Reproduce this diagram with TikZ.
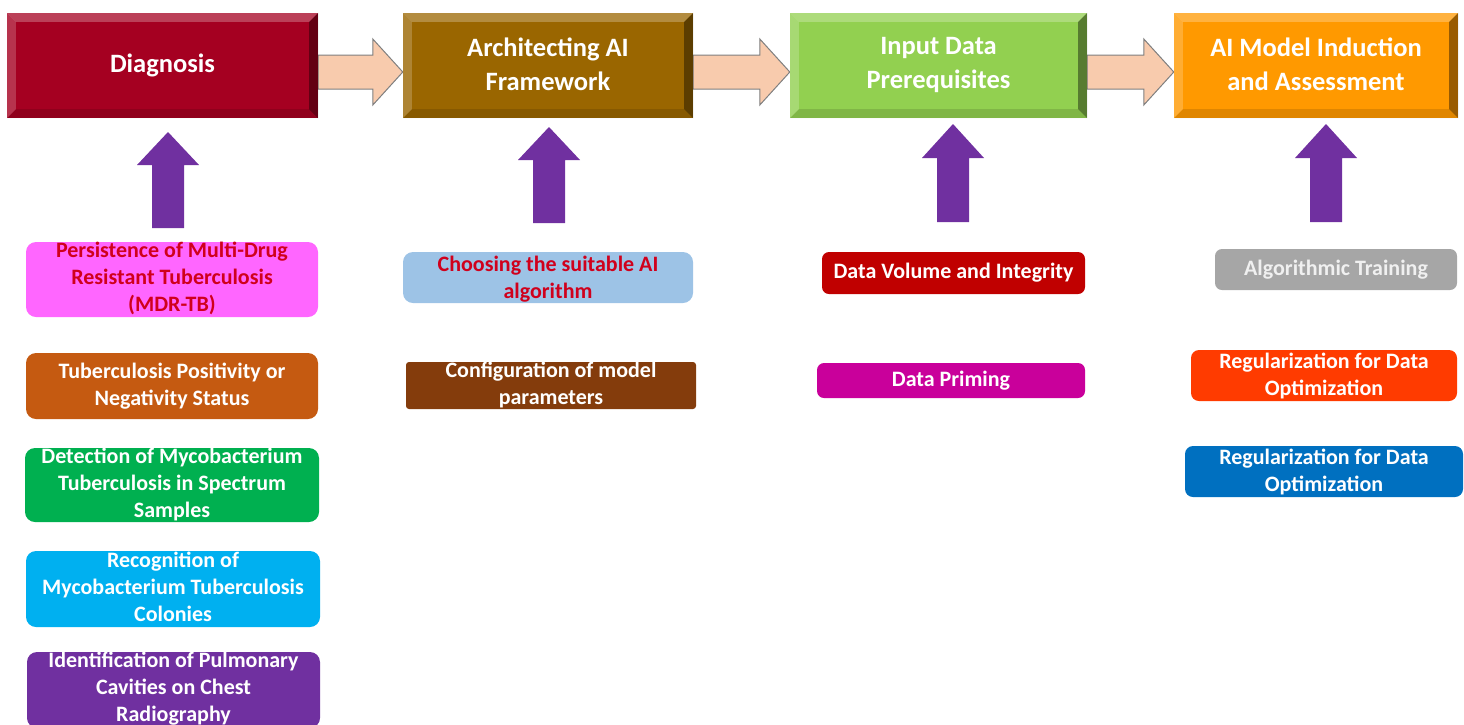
\documentclass[tikz,border=0pt]{standalone}
\usepackage{fontspec}
\setmainfont{Carlito}
\usetikzlibrary{backgrounds}

\definecolor{diagred}{HTML}{A50021}
\definecolor{archbrown}{HTML}{9A6600}
\definecolor{inputgreen}{HTML}{92D050}
\definecolor{modelorange}{HTML}{FF9900}
\definecolor{peach}{HTML}{F8CBAD}
\definecolor{arrowgray}{HTML}{7F7F7F}
\definecolor{uppurple}{HTML}{7030A0}
\definecolor{pinkbox}{HTML}{FF66FF}
\definecolor{rustbox}{HTML}{C55A11}
\definecolor{greenbox}{HTML}{00B050}
\definecolor{cyanbox}{HTML}{00B0F0}
\definecolor{purplebox}{HTML}{7030A0}
\definecolor{lightbluebox}{HTML}{9DC3E6}
\definecolor{brownbox}{HTML}{843C0C}
\definecolor{darkredbox}{HTML}{C00000}
\definecolor{magentabox}{HTML}{C9009B}
\definecolor{graybox}{HTML}{A6A6A6}
\definecolor{orangeredbox}{HTML}{FF3B00}
\definecolor{bluebox}{HTML}{0070C0}
\definecolor{redtext}{HTML}{D0001C}

\newcommand{\uparr}[4]{%
  \fill[uppurple] (#1-16,#4) -- (#1-16,#3) -- (#1-31,#3) -- (#1,#2) -- (#1+31,#3) -- (#1+16,#3) -- (#1+16,#4) -- cycle;}
\newcommand{\hblock}[2]{%
  \draw[hbar] ([shift={(0,-10.5)}]#1.east) -- ([shift={(-30,-10.5)}]#2.west) -- ([shift={(-30,-26.5)}]#2.west)
    -- ([shift={(0,6.5)}]#2.west) -- ([shift={(-30,39.5)}]#2.west) -- ([shift={(-30,23.5)}]#2.west)
    -- ([shift={(0,23.5)}]#1.east) -- cycle;}

\begin{document}
\begin{tikzpicture}[x=1pt,y=-1pt,
    stage/.style={rectangle, inner sep=0pt, minimum height=105},
    stagetext/.style={text=white, align=center, font=\fontsize{26.5}{34}\selectfont\bfseries},
    item/.style={rectangle, rounded corners=10, inner sep=0pt},
    itemtext/.style={text=white, align=center, font=\fontsize{22}{27}\selectfont\bfseries},
    hbar/.style={fill=peach, draw=arrowgray, line width=1pt, line join=miter}]

    \useasboundingbox (0,0) rectangle (1464,724);

    \node[stage, fill=diagred, minimum width=311] (diag) at (162.5,65.5) {};
    \node[stage, fill=archbrown, minimum width=290] (arch) at (548,65.5) {};
    \node[stage, fill=inputgreen, minimum width=297] (input) at (938.5,65.5) {};
    \node[stage, fill=modelorange, minimum width=284] (model) at (1316,65.5) {};

    \foreach \n in {diag,arch,input,model} {
        \fill[white,opacity=.25] (\n.north west) -- (\n.north east) -- ([shift={(-9,9)}]\n.north east) -- ([shift={(9,9)}]\n.north west) -- cycle;
        \fill[white,opacity=.2] (\n.north west) -- ([shift={(9,9)}]\n.north west) -- ([shift={(9,-9)}]\n.south west) -- (\n.south west) -- cycle;
        \fill[black,opacity=.4] (\n.north east) -- (\n.south east) -- ([shift={(-9,-9)}]\n.south east) -- ([shift={(-9,9)}]\n.north east) -- cycle;
        \fill[black,opacity=.12] (\n.south west) -- ([shift={(9,-9)}]\n.south west) -- ([shift={(-9,-9)}]\n.south east) -- (\n.south east) -- cycle;
    }

    \node[stagetext] (diagtext) at (diag) {Diagnosis};
    \node[stagetext] (archtext) at (548,64.5) {Architecting AI\\Framework};
    \node[stagetext] (inputtext) at (938.5,65) {Input Data\\Prerequisites};
    \node[stagetext] (modeltext) at (1316,64) {AI Model Induction\\and Assessment};

    \begin{scope}[on background layer]
        \hblock{diag}{arch}
        \hblock{arch}{input}
        \hblock{input}{model}
    \end{scope}

    \uparr{168}{132}{165}{228}
    \uparr{549}{127}{160}{223}
    \uparr{953}{124}{158}{222}
    \uparr{1326}{124}{158}{222}

    \node[item, fill=pinkbox, minimum width=292, minimum height=75] (mdr) at (172,279.5) {};
    \node[itemtext, text=redtext] (mdrtext) at (172,278) {Persistence of Multi-Drug\\Resistant Tuberculosis\\(MDR-TB)};
    \node[item, fill=rustbox, minimum width=292, minimum height=66] (status) at (172,386) {};
    \node[itemtext] (statustext) at (status) {Tuberculosis Positivity or\\Negativity Status};
    \node[item, fill=greenbox, minimum width=294, minimum height=74] (detect) at (172,485) {};
    \node[itemtext] (detecttext) at (172,484) {Detection of Mycobacterium\\Tuberculosis in Spectrum\\Samples};
    \node[item, fill=cyanbox, minimum width=294, minimum height=76] (recog) at (173,589) {};
    \node[itemtext] (recogtext) at (173,587) {Recognition of\\Mycobacterium Tuberculosis\\Colonies};
    \node[item, fill=purplebox, minimum width=293, minimum height=76] (cavity) at (173.5,690) {};
    \node[itemtext] (cavitytext) at (173.5,688.5) {Identification of Pulmonary\\Cavities on Chest\\Radiography};

    \node[item, fill=lightbluebox, minimum width=290, minimum height=51] (algo) at (548,277.5) {};
    \node[itemtext, text=redtext] (algotext) at (548,279.5) {Choosing the suitable AI\\algorithm};
    \node[item, rounded corners=3, fill=brownbox, minimum width=290, minimum height=47] (config) at (551,385.5) {};
    \node[itemtext] (configtext) at (551,385) {Configuration of model\\parameters};

    \node[item, rounded corners=7, fill=darkredbox, minimum width=263, minimum height=42] (volume) at (953.5,273) {};
    \node[itemtext] (volumetext) at (volume) {Data Volume and Integrity};
    \node[item, rounded corners=7, fill=magentabox, minimum width=268, minimum height=35] (priming) at (951,380.5) {};
    \node[itemtext] (primingtext) at (priming) {Data Priming};

    \node[item, rounded corners=7, fill=graybox, minimum width=242, minimum height=41] (training) at (1336,269.5) {};
    \node[itemtext, text=white!94!black] (trainingtext) at (training) {Algorithmic Training};
    \node[item, rounded corners=8, fill=orangeredbox, minimum width=266, minimum height=51] (regA) at (1324,375.5) {};
    \node[itemtext] (regAtext) at (regA) {Regularization for Data\\Optimization};
    \node[item, rounded corners=8, fill=bluebox, minimum width=278, minimum height=51] (regB) at (1324,471.5) {};
    \node[itemtext] (regBtext) at (regB) {Regularization for Data\\Optimization};
\end{tikzpicture}
\end{document}
